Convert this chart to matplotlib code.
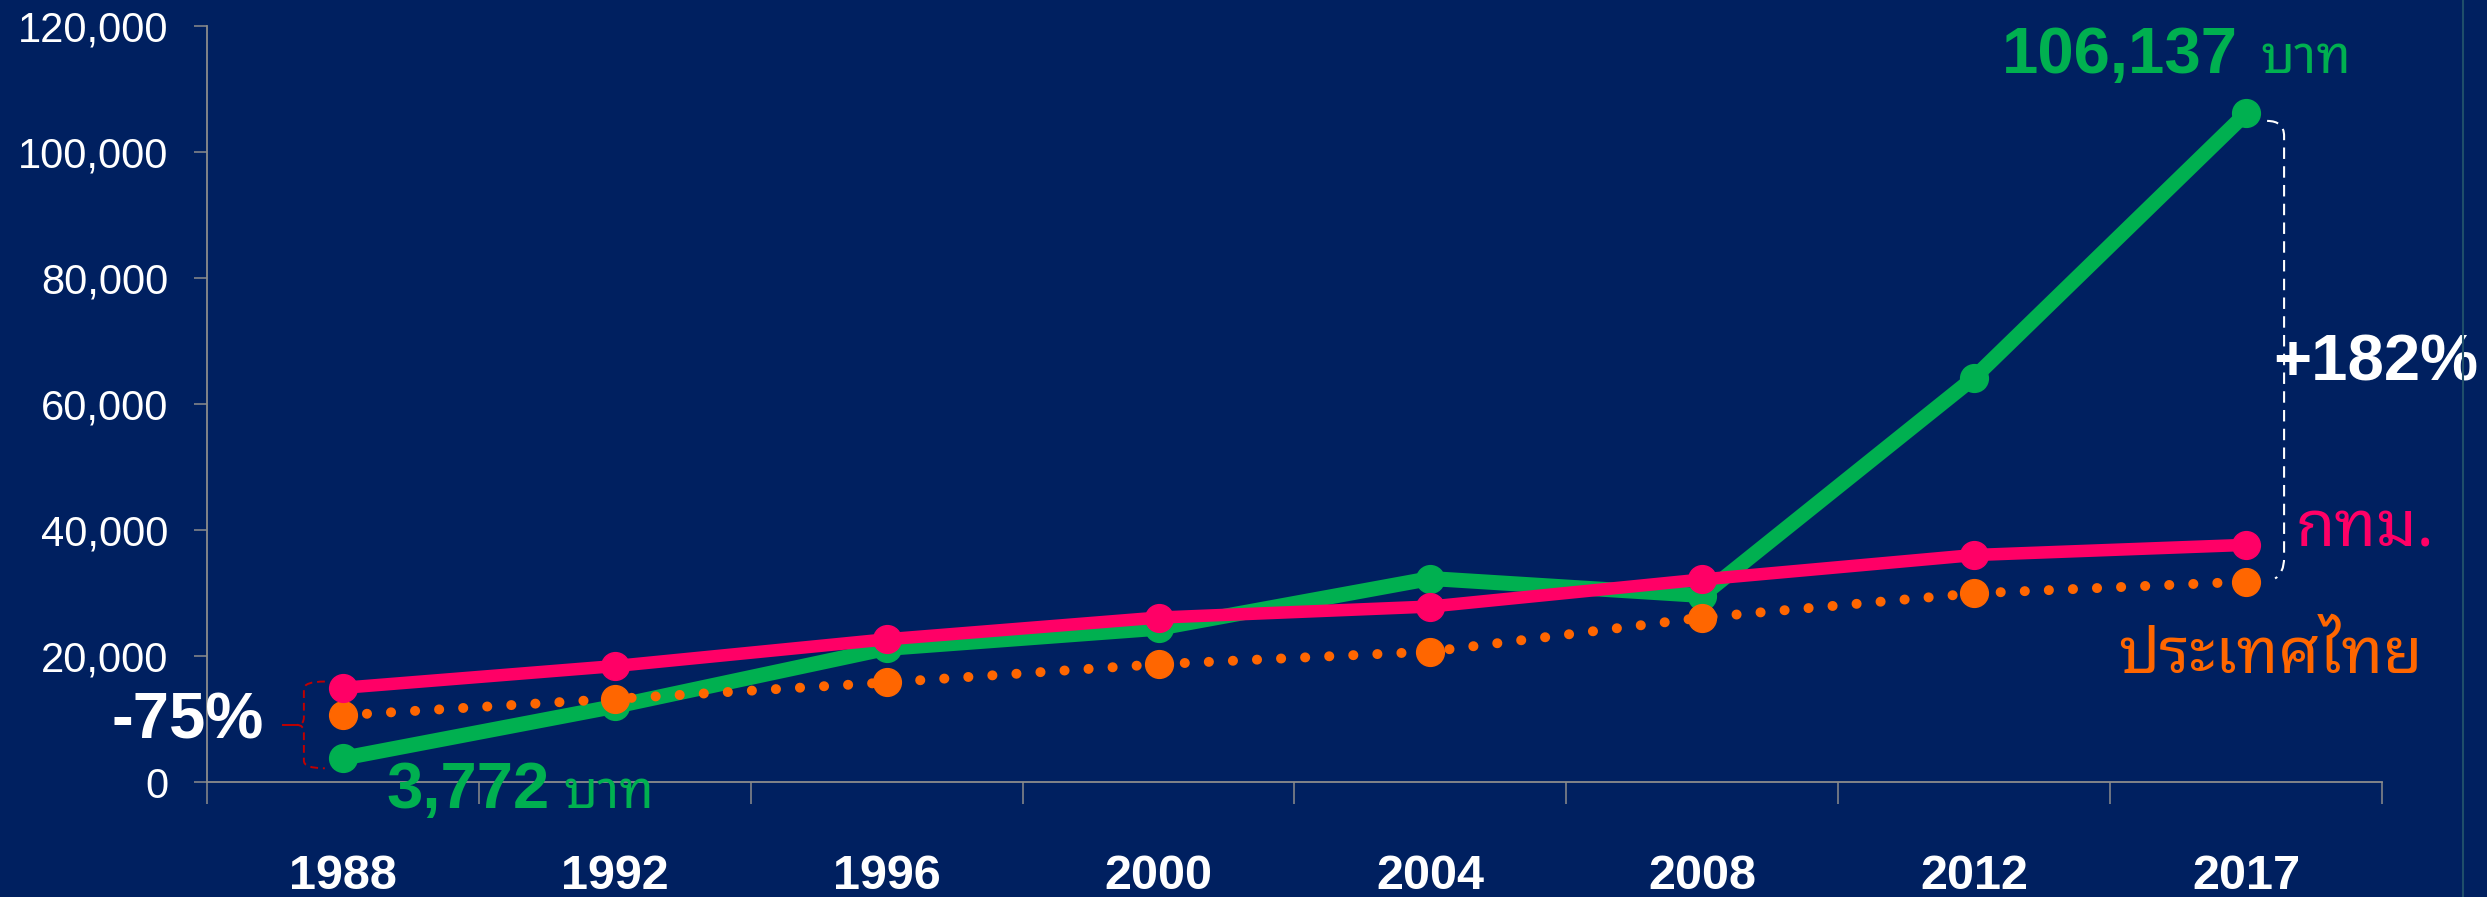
import matplotlib
matplotlib.use('Agg')
import matplotlib.pyplot as plt
from matplotlib.path import Path
from matplotlib.patches import PathPatch
from matplotlib.lines import Line2D
from matplotlib.ticker import FuncFormatter, FixedLocator

# data
years = ['1988', '1992', '1996', '2000', '2004', '2008', '2012', '2017']
green_vals = [3772, 12000, 21200, 24400, 32300, 29600, 64200, 106137]
bkk_vals = [14950, 18400, 22650, 26100, 27850, 32150, 36030, 37640]
thai_vals = [10600, 13200, 15800, 18700, 20700, 26100, 29950, 31800]
y_ticks = [0, 20000, 40000, 60000, 80000, 100000, 120000]

BG = '#002060'
GREEN = '#00B050'
PINK = '#FF0066'
ORANGE = '#FF6600'
GREY = '#8C8C8C'

LATIN = ['Liberation Sans', 'DejaVu Sans']
THAI = ['Noto Sans Thai Looped', 'Sarabun', 'Noto Sans Thai', 'Tahoma',
        'Anuphan', 'DejaVu Sans']

plt.rcParams['font.family'] = LATIN

fig = plt.figure(figsize=(24.87, 8.97), dpi=100, facecolor=BG)
ax = fig.add_axes([0.0832, 0.1282, 0.8746, 0.8428])
ax.set_facecolor(BG)

x = list(range(len(years)))

ax.plot(x, green_vals, color=GREEN, lw=10.8, marker='o', ms=20,
        solid_capstyle='round', zorder=3)
ax.plot(x, thai_vals, color=ORANGE, lw=7.2, linestyle=(0, (0.01, 2.4)),
        dash_capstyle='round', marker='o', ms=20, zorder=4)
ax.plot(x, bkk_vals, color=PINK, lw=9, marker='o', ms=20,
        solid_capstyle='round', zorder=5)

ax.set_xlim(-0.5, len(years) - 0.5)
ax.set_ylim(0, 120000)

for side in ['top', 'right']:
    ax.spines[side].set_visible(False)
for side in ['left', 'bottom']:
    ax.spines[side].set_color(GREY)
    ax.spines[side].set_linewidth(1.3)

ax.yaxis.set_major_locator(FixedLocator(y_ticks))
ax.yaxis.set_major_formatter(FuncFormatter(lambda v, p: '{:,.0f}'.format(v)))
ax.tick_params(axis='y', direction='out', length=9.4, width=1.1, color=GREY,
               labelsize=30, labelcolor='white', pad=18.5)

ax.set_xticks(x)
ax.set_xticklabels(years, fontsize=35, fontweight='bold', color='white')
ax.set_xticks([i - 0.5 for i in range(len(years) + 1)], minor=True)
ax.tick_params(axis='x', which='major', length=0, pad=52)
ax.tick_params(axis='x', which='minor', direction='out', length=16,
               width=1.1, color=GREY)

px = 0.72  # points per pixel at 100 dpi

# value labels
ax.annotate('{:,}'.format(green_vals[-1]), (x[-1], green_vals[-1]),
            xytext=(-8 * px, 40 * px), textcoords='offset points',
            ha='right', va='baseline', fontsize=47, fontweight='bold',
            color=GREEN)
ax.annotate('บาท', (x[-1], green_vals[-1]),
            xytext=(14 * px, 40 * px), textcoords='offset points',
            ha='left', va='baseline', fontsize=38, color=GREEN, family=THAI)
ax.annotate('{:,}'.format(green_vals[0]), (x[0], green_vals[0]),
            xytext=(44 * px, -50 * px), textcoords='offset points',
            ha='left', va='baseline', fontsize=47, fontweight='bold',
            color=GREEN)
ax.annotate('บาท', (x[0], green_vals[0]),
            xytext=(221 * px, -50 * px), textcoords='offset points',
            ha='left', va='baseline', fontsize=38, color=GREEN, family=THAI)

# series names
ax.annotate('กทม.', (x[-1], bkk_vals[-1]),
            xytext=(49 * px, -2 * px), textcoords='offset points',
            ha='left', va='baseline', fontsize=46, fontweight='bold',
            color=PINK, family=THAI)
ax.annotate('ประเทศไทย', (x[-1], thai_vals[-1]),
            xytext=(24 * px, -91 * px), textcoords='offset points',
            ha='center', va='baseline', fontsize=46, fontweight='bold',
            color=ORANGE, family=THAI)

# change percentages
pct_end = green_vals[-1] / bkk_vals[-1] - 1
pct_start = green_vals[0] / bkk_vals[0] - 1
mid_end = (green_vals[-1] + thai_vals[-1]) / 2
mid_start = (green_vals[0] + bkk_vals[0]) / 2
ax.annotate('+{:.0f}%'.format(pct_end * 100), (x[-1], mid_end),
            xytext=(27 * px, -33 * px), textcoords='offset points',
            ha='left', va='baseline', fontsize=47, fontweight='bold',
            color='white', zorder=6)
ax.annotate('{:.0f}%'.format(pct_start * 100), (x[0], mid_start),
            xytext=(-79 * px, -15 * px), textcoords='offset points',
            ha='right', va='baseline', fontsize=47, fontweight='bold',
            color='white', zorder=6)

# right bracket (white dashed)
cat = 272.0
top = green_vals[-1] - 1200
bot = thai_vals[-1] + 1400
x0 = x[-1] + 21 / cat
xv = x[-1] + 38 / cat
ry = 2400
verts = [(x0, top), (xv, top), (xv, top - ry),
         (xv, bot + ry), (xv, bot), (x0 + 8 / cat, bot - 900)]
codes = [Path.MOVETO, Path.CURVE3, Path.CURVE3,
         Path.LINETO, Path.CURVE3, Path.CURVE3]
ax.add_patch(PathPatch(Path(verts, codes), fill=False, edgecolor='white',
                       lw=1.5, linestyle=(0, (5.5, 3.5)), zorder=6,
                       clip_on=False))

# left brace (dark red dashed)
RED = '#C00000'
btop = bkk_vals[0] + 1000
bbot = green_vals[0] - 1600
bmid = (btop + bbot) / 2
xe = x[0] - 18 / cat
xb = x[0] - 39 / cat
xc = x[0] - 46 / cat
r2 = 1200
verts = [(xe, btop), (xb, btop), (xb, btop - r2),
         (xb, bmid + r2), (xb, bmid), (xc, bmid),
         (xb, bmid), (xb, bmid - r2),
         (xb, bbot + r2), (xb, bbot), (xe, bbot)]
codes = [Path.MOVETO, Path.CURVE3, Path.CURVE3,
         Path.LINETO, Path.CURVE3, Path.CURVE3,
         Path.CURVE3, Path.CURVE3,
         Path.LINETO, Path.CURVE3, Path.CURVE3]
ax.add_patch(PathPatch(Path(verts, codes), fill=False, edgecolor=RED,
                       lw=1.4, linestyle=(0, (4, 2.5)), zorder=6,
                       clip_on=False))
ax.plot([x[0] - 60 / cat, xc], [bmid, bmid], color=RED, lw=1.4,
        clip_on=False, zorder=6)

# faint slide border on the right
fig.add_artist(Line2D([0.9904, 0.9904], [0, 1], color='#1F4E6A', lw=1.5))

fig.savefig('out.png', dpi=100, facecolor=BG)
